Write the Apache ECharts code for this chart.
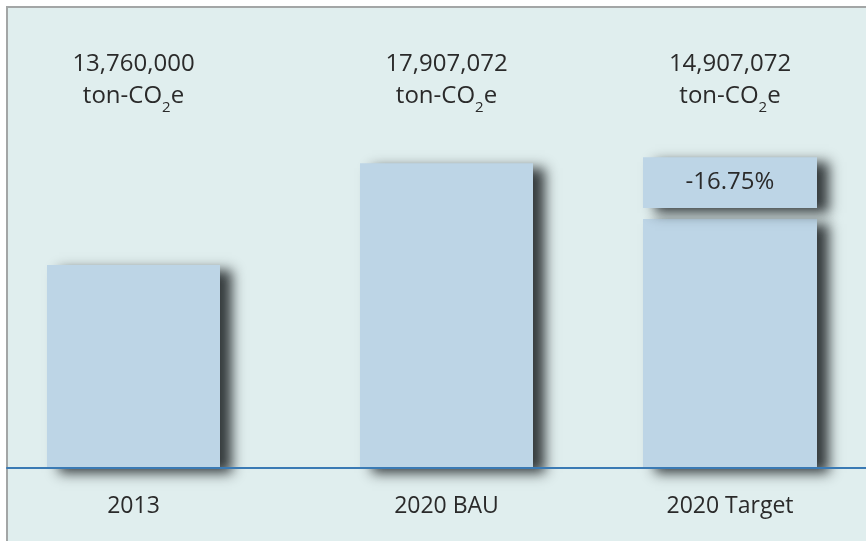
<!DOCTYPE html>
<html>
<head>
<meta charset="utf-8">
<script src="https://cdn.jsdelivr.net/npm/echarts@6/dist/echarts.min.js"></script>
<style>
  html, body { margin: 0; padding: 0; background: #ffffff; overflow: hidden; }
  #frame {
    position: absolute; left: 6px; top: 6px; width: 900px; height: 600px;
    border: 2px solid #a3a6a6; background: #e0eeee;
  }
  #chart { position: absolute; left: 0; top: 0; width: 866px; height: 541px; }
</style>
</head>
<body>
<div id="frame"></div>
<div id="chart"></div>
<script>
const categories = ['2013', '2020 BAU', '2020 Target'];
// ton-CO2e, printed above each column
const emissions = [13760000, 17907072, 14907072];
// drawn column heights in million ton-CO2e (target column is drawn schematically)
const barValues = [13.76, 17.907, 15.63];
const capGap = 0.45;
const capValue = 2.07;

const TEXT = '#2a2a2a';
const BAR = '#bdd5e6';
const Y_MIN = 5.5;
const Y_MAX = 19.5;
const TOP = 124;
const BOTTOM = 73;
const slots = [
  { left: 47, width: 173 },
  { left: 360, width: 173 },
  { left: 643, width: 174 },
];

const reduction = ((emissions[2] - emissions[1]) / emissions[1] * 100).toFixed(2) + '%';

const shadow = {
  color: BAR,
  shadowColor: 'rgba(24,28,30,0.85)',
  shadowBlur: 12,
  shadowOffsetX: 12,
  shadowOffsetY: 5,
};

const topLabel = (v) =>
  '{v|' + v.toLocaleString('en-US') + '}\n{u|ton-CO}{s|2}{u|e}';

const grid = [];
const xAxis = [];
const yAxis = [];
slots.forEach((s, i) => {
  grid.push({ left: s.left, width: s.width, top: TOP, bottom: BOTTOM });
  xAxis.push({
    type: 'category', gridIndex: i, data: [categories[i]],
    axisLine: { show: false }, axisTick: { show: false },
    axisLabel: { color: TEXT, fontSize: 23, fontFamily: 'Open Sans', margin: 27 },
  });
  xAxis.push({
    type: 'category', gridIndex: i, position: 'top', data: [categories[i]],
    axisLine: { show: false }, axisTick: { show: false },
    axisLabel: {
      margin: 10,
      formatter: () => topLabel(emissions[i]),
      rich: {
        v: { color: TEXT, fontSize: 24, fontFamily: 'Open Sans', lineHeight: 32, verticalAlign: 'top' },
        u: { color: TEXT, fontSize: 24, fontFamily: 'Open Sans', lineHeight: 30, verticalAlign: 'top' },
        s: { color: TEXT, fontSize: 15, fontFamily: 'Open Sans', lineHeight: 15, verticalAlign: 'top', padding: [16, 0, 0, 0] },
      },
    },
  });
  yAxis.push({ type: 'value', gridIndex: i, min: Y_MIN, max: Y_MAX, show: false });
});

// full-width baseline
grid.push({ left: 7, right: 0, top: TOP, bottom: BOTTOM });
xAxis.push({
  type: 'value', gridIndex: 3, z: 10,
  axisLine: { show: true, lineStyle: { color: '#3a7ab4', width: 2 } },
  axisTick: { show: false }, axisLabel: { show: false }, splitLine: { show: false },
});
yAxis.push({ type: 'value', gridIndex: 3, min: 0, max: 1, show: false });

const series = [0, 1].map((i) => ({
  type: 'bar', xAxisIndex: i * 2, yAxisIndex: i, barWidth: '100%',
  data: [barValues[i]], itemStyle: shadow, silent: true,
}));
series.push(
  { type: 'bar', stack: 'target', xAxisIndex: 4, yAxisIndex: 2, barWidth: '100%',
    data: [barValues[2]], itemStyle: shadow, silent: true },
  { type: 'bar', stack: 'target', xAxisIndex: 4, yAxisIndex: 2, barWidth: '100%',
    data: [capGap], itemStyle: { color: 'transparent' }, silent: true },
  { type: 'bar', stack: 'target', xAxisIndex: 4, yAxisIndex: 2, barWidth: '100%',
    data: [capValue], itemStyle: shadow, silent: true,
    label: { show: true, position: 'inside', formatter: reduction,
      color: TEXT, fontSize: 24, fontFamily: 'Open Sans' } }
);

const chart = echarts.init(document.getElementById('chart'), null, { renderer: 'canvas' });
chart.setOption({
  animation: false,
  backgroundColor: 'transparent',
  grid, xAxis, yAxis, series,
});
</script>
</body>
</html>
